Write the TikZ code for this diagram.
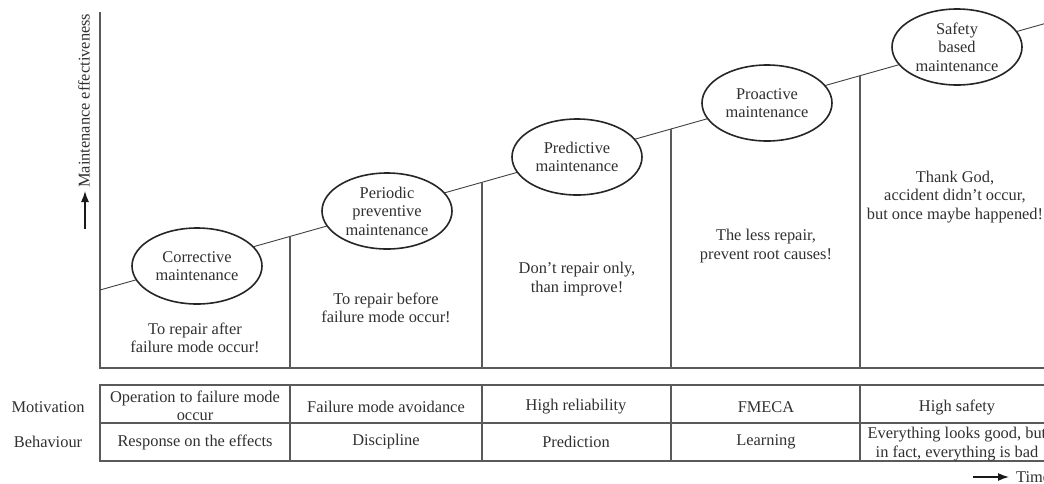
\documentclass[tikz,border=0pt]{standalone}
\usepackage{fontspec}
\setmainfont{Liberation Serif}
\usetikzlibrary{shapes.geometric,arrows.meta}
\definecolor{txt}{HTML}{303030}
\definecolor{ln}{HTML}{5A5A5A}
\begin{document}
\begin{tikzpicture}[x=1pt,y=-1pt,
  font=\fontsize{16.4}{18.5}\selectfont, text=txt,
  stage/.style={ellipse,draw=black!85,line width=1.6pt,fill=white,minimum width=130pt,minimum height=76pt,inner sep=0pt,align=center},
  note/.style={align=center,inner sep=0pt},
  axis/.style={draw=ln,line width=1.3pt},
  divider/.style={draw=ln,line width=1.2pt},
  grid/.style={draw=ln,line width=1.4pt},
  trend/.style={draw=black!75,line width=0.9pt},
  arr/.style={-{Latex[length=11pt,width=8pt]},line width=1.4pt,draw=black!90}
]
\useasboundingbox (0,0) rectangle (1044,483);
\clip (0,0) rectangle (1044,483);
% axes
\coordinate (ytop) at (100,12);
\coordinate (o) at (100,368);
\coordinate (xend) at (1060,368);
\draw[axis] (ytop) -- (o) -- (xend);
% trend line
\coordinate (t0) at (100,290);
\coordinate (t1) at (1060,19.3);
\draw[trend] (t0) -- (t1);
% dividers
\coordinate (d1t) at (290,236.4); \coordinate (d1b) at (290,368);
\coordinate (d2t) at (482,182.3); \coordinate (d2b) at (482,368);
\coordinate (d3t) at (671,129.0); \coordinate (d3b) at (671,368);
\coordinate (d4t) at (860,75.7);  \coordinate (d4b) at (860,368);
\draw[divider] (d1t) -- (d1b);
\draw[divider] (d2t) -- (d2b);
\draw[divider] (d3t) -- (d3b);
\draw[divider] (d4t) -- (d4b);
% stages
\node[stage] (e1) at (197,266) {Corrective\\maintenance};
\node[stage] (e2) at (387,211) {Periodic\\preventive\\maintenance};
\node[stage] (e3) at (577,157) {Predictive\\maintenance};
\node[stage] (e4) at (767,103) {Proactive\\maintenance};
\node[stage] (e5) at (957,47) {Safety\\based\\maintenance};
% notes
\node[note] (n1) at (195,338) {To repair after\\failure mode occur!};
\node[note] (n2) at (386,308) {To repair before\\failure mode occur!};
\node[note] (n3) at (577,279) {Don't repair only,\\than improve!};
\node[note] (n4) at (766,246) {The less repair,\\prevent root causes!};
\node[note] (n5) at (955,197) {Thank God,\\accident didn't occur,\\but once maybe happened!};
% y axis label
\coordinate (ya) at (85,229);
\coordinate (yb) at (85,191);
\draw[arr] (ya) -- (yb);
\node[rotate=90,anchor=west,inner sep=0pt] (ylab) at (84,188) {Maintenance effectiveness};
% table
\coordinate (g1) at (100,385); \coordinate (g2) at (1060,461);
\draw[grid] (g1) rectangle (g2);
\coordinate (gm1) at (100,423); \coordinate (gm2) at (1060,423);
\draw[grid] (gm1) -- (gm2);
\foreach \x/\n in {290/a,482/b,671/c,860/d}{
  \coordinate (c\n t) at (\x,385); \coordinate (c\n b) at (\x,461);
  \draw[grid] (c\n t) -- (c\n b);
}
\node[note] (rm) at (48,407) {Motivation};
\node[note] (rb) at (48,442) {Behaviour};
\node[note] (m1) at (195,406) {Operation to failure mode\\occur};
\node[note] (m2) at (386,407) {Failure mode avoidance};
\node[note] (m3) at (576,407) {High reliability};
\node[note] (m4) at (766,407) {FMECA};
\node[note] (m5) at (957,407) {High safety};
\node[note] (b1) at (195,442) {Response on the effects};
\node[note] (b2) at (386,442) {Discipline};
\node[note] (b3) at (576,442) {Prediction};
\node[note] (b4) at (766,442) {Learning};
\node[note] (b5) at (957,444) {Everything looks good, but\\in fact, everything is bad};
% time arrow
\coordinate (ta) at (973,477);
\coordinate (tb) at (1009,477);
\draw[arr] (ta) -- (tb);
\node[anchor=west,inner sep=0pt] (time) at (1016,477) {Time};
\end{tikzpicture}
\end{document}
